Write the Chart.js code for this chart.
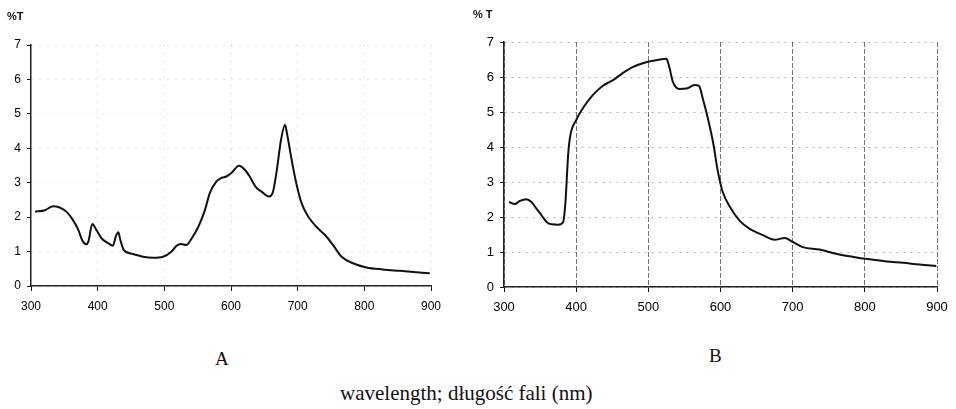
<!DOCTYPE html>
<html lang="pl">
<head>
  <meta charset="UTF-8" />
  <title>%T spectra A / B</title>
  <script src="https://cdn.jsdelivr.net/npm/chart.js"></script>
  <style>
    body { margin: 0; background: #fff; width: 956px; height: 409px; position: relative; overflow: hidden; }
    .box { position: absolute; top: 0; height: 330px; }
    .lbl { position: absolute; color: #111; white-space: nowrap; }
    .pt { font: bold 11px "Liberation Sans", Arial, sans-serif; }
    .serif { font-family: "Liberation Serif", "Times New Roman", serif; }
  </style>
</head>
<body>
  <div class="box" style="left:0;width:470px"><canvas id="chartA"></canvas></div>
  <div class="box" style="left:470px;width:486px"><canvas id="chartB"></canvas></div>

  <div class="lbl pt" style="left:7px;top:10px">%T</div>
  <div class="lbl pt" style="left:473px;top:8px">% T</div>
  <div class="lbl serif" style="left:215px;top:348px;font-size:19px">A</div>
  <div class="lbl serif" style="left:709px;top:345px;font-size:19px">B</div>
  <div class="lbl serif" style="left:340px;top:381px;font-size:21px">wavelength; długość fali (nm)</div>

  <script>
    // panel A
    const waveA = [306, 321, 333, 343, 353, 361, 371, 377, 383, 386, 392, 398, 406, 416, 423, 427, 431, 434, 439,
      453, 468, 483, 498, 511, 518, 525, 533, 541, 551, 561, 568, 578, 586, 593, 601, 612, 621, 628, 637, 646,
      657, 663, 668, 675, 681, 684, 691, 698, 706, 716, 728, 741, 753, 766, 783, 803, 828, 853, 878, 898];
    const transA = [2.16, 2.2, 2.32, 2.28, 2.16, 1.97, 1.63, 1.32, 1.21, 1.29, 1.8, 1.63, 1.38, 1.24, 1.17, 1.43, 1.56, 1.34, 1.05,
      0.93, 0.85, 0.82, 0.85, 1.0, 1.16, 1.22, 1.19, 1.38, 1.72, 2.21, 2.69, 3.03, 3.14, 3.18, 3.29, 3.49, 3.37, 3.18, 2.88, 2.74,
      2.6, 2.74, 3.27, 4.24, 4.68, 4.43, 3.66, 2.98, 2.4, 2.01, 1.72, 1.48, 1.19, 0.85, 0.66, 0.54, 0.48, 0.44, 0.4, 0.37];

    // panel B
    const waveB = [307, 315, 322, 331, 338, 345, 352, 359, 366, 375, 382, 385, 389, 392, 400, 409, 423, 437, 451,
      465, 479, 497, 511, 525, 529, 534, 543, 553, 564, 570, 576, 583, 590, 596, 603, 613, 627, 640, 659,
      675, 689, 700, 714, 737, 760, 784, 807, 830, 853, 876, 899];
    const transB = [2.43, 2.37, 2.46, 2.51, 2.43, 2.24, 2.05, 1.86, 1.79, 1.78, 1.86, 2.38, 3.81, 4.34, 4.77, 5.1, 5.48, 5.75, 5.91,
      6.12, 6.29, 6.42, 6.48, 6.52, 6.29, 5.86, 5.66, 5.67, 5.77, 5.75, 5.34, 4.77, 4.1, 3.34, 2.72, 2.29, 1.88, 1.67, 1.48,
      1.35, 1.4, 1.29, 1.14, 1.07, 0.95, 0.86, 0.79, 0.73, 0.69, 0.64, 0.6];

    const xMin = 300, xMax = 900, xStep = 100;
    const yMin = 0, yMax = 7, yStep = 1;

    function makeChart(id, waves, values, o) {
      const pts = waves.map((w, i) => ({ x: w, y: values[i] }));
      return new Chart(document.getElementById(id), {
        type: 'line',
        data: {
          datasets: [{
            data: pts,
            borderColor: '#111',
            borderWidth: 2,
            pointRadius: 0,
            cubicInterpolationMode: 'monotone',
            fill: false
          }]
        },
        options: {
          responsive: true,
          maintainAspectRatio: false,
          animation: false,
          events: [],
          layout: { padding: { top: o.top, right: o.right, left: 0, bottom: 0 } },
          plugins: { legend: { display: false }, tooltip: { enabled: false } },
          scales: {
            x: {
              type: 'linear', min: xMin, max: xMax,
              ticks: { stepSize: xStep, color: '#000', padding: 8, maxRotation: 0,
                       font: { family: 'Liberation Sans', size: o.font } },
              grid: { color: o.xGrid, tickColor: '#111', tickLength: 5 },
              border: { color: '#222', width: 1.5, dash: o.xDash },
              afterFit: s => { s.height = o.xH; }
            },
            y: {
              min: yMin, max: yMax,
              ticks: { stepSize: yStep, color: '#000', padding: 6,
                       font: { family: 'Liberation Sans', size: o.font } },
              grid: { color: o.yGrid, tickColor: '#111', tickLength: 4 },
              border: { color: '#222', width: 1.5, dash: o.yDash },
              afterFit: s => { s.width = o.yW; }
            }
          }
        }
      });
    }

    makeChart('chartA', waveA, transA, {
      top: 45, right: 39, xH: 44, yW: 31, font: 12,
      xGrid: 'rgba(0,0,0,0.2)', yGrid: 'rgba(0,0,0,0.2)', xDash: [1, 7], yDash: [1, 7]
    });
    makeChart('chartB', waveB, transB, {
      top: 42, right: 19, xH: 43, yW: 34, font: 13,
      xGrid: 'rgba(0,0,0,0.55)', yGrid: 'rgba(0,0,0,0.3)', xDash: [5, 2], yDash: [2, 5]
    });
  </script>
</body>
</html>
